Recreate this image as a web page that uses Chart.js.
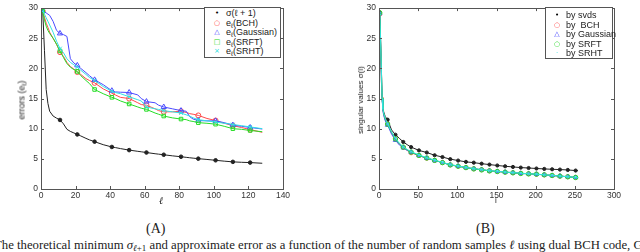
<!DOCTYPE html>
<html>
<head>
<meta charset="utf-8">
<script src="https://cdn.jsdelivr.net/npm/chart.js@4/dist/chart.umd.min.js"></script>
<style>
  body { margin:0; width:640px; height:252px; overflow:hidden; background:#fff; position:relative;
         font-family:"Liberation Sans", Arial, sans-serif; color:#222; }
  canvas { position:absolute; top:0; }
  .txt { position:absolute; white-space:nowrap; line-height:1; }
  .ytitle { font-size:9px; transform:translate(-50%,-50%) rotate(-90deg); }
  .legend { position:absolute; background:#fff; border:1px solid #555; box-sizing:border-box; font-size:9px; }
  .legend .row { position:absolute; left:0; white-space:nowrap; line-height:10px; height:10px; }
  .legend .mk { position:absolute; width:10px; text-align:center; font-family:"DejaVu Sans"; font-size:7px; }
  .legend .lb { position:absolute; }
  .serif { font-family:"Liberation Serif", "Times New Roman", serif; }
  sub { font-size:70%; vertical-align:-2px; line-height:0; }
</style>
</head>
<body>
<canvas id="chartA" width="320" height="215" style="left:0"></canvas>
<canvas id="chartB" width="320" height="215" style="left:320px"></canvas>

<div class="txt ytitle" style="left:22px;top:100px">errors (e<sub>ℓ</sub>)</div>
<div class="txt serif" style="left:159px;top:196px;font-size:10px;font-style:italic">ℓ</div>
<div class="txt ytitle" style="left:361px;top:100px;font-size:8px">singular values σ(i)</div>
<div class="txt" style="left:495px;top:197px;font-size:8px">i</div>

<div class="legend" style="left:204px;top:7px;width:77px;height:51px">
  <div class="row" style="top:0px"><span class="mk" style="left:7px;color:#000">•</span><span class="lb" style="left:21px">σ(ℓ + 1)</span></div>
  <div class="row" style="top:9.5px"><span class="mk" style="left:7px;color:#ff4040">○</span><span class="lb" style="left:21px">e<sub>ℓ</sub>(BCH)</span></div>
  <div class="row" style="top:19px"><span class="mk" style="left:7px;color:#4040ff">△</span><span class="lb" style="left:21px">e<sub>ℓ</sub>(Gaussian)</span></div>
  <div class="row" style="top:28.5px"><span class="mk" style="left:7px;color:#20d820">□</span><span class="lb" style="left:21px">e<sub>ℓ</sub>(SRFT)</span></div>
  <div class="row" style="top:38px"><span class="mk" style="left:7px;color:#20dcdc">×</span><span class="lb" style="left:21px">e<sub>ℓ</sub>(SRHT)</span></div>
</div>

<div class="legend" style="left:545px;top:7px;width:68px;height:52px">
  <div class="row" style="top:2px"><span class="mk" style="left:6px;color:#000">•</span><span class="lb" style="left:20px">by svds</span></div>
  <div class="row" style="top:11.5px"><span class="mk" style="left:6px;color:#ff4040">○</span><span class="lb" style="left:20px">by &nbsp;BCH</span></div>
  <div class="row" style="top:21px"><span class="mk" style="left:6px;color:#4040ff">△</span><span class="lb" style="left:20px">by Gaussian</span></div>
  <div class="row" style="top:30.5px"><span class="mk" style="left:6px;color:#20d820">○</span><span class="lb" style="left:20px">by SRFT</span></div>
  <div class="row" style="top:40px"><span class="mk" style="left:6px;color:#20dcdc">·</span><span class="lb" style="left:20px">by SRHT</span></div>
</div>

<div class="txt serif" style="left:146px;top:222px;font-size:14px">(A)</div>
<div class="txt serif" style="left:476px;top:222px;font-size:14px">(B)</div>
<div class="txt serif" style="left:-6px;top:239px;font-size:12.75px">The theoretical minimum <i>σ</i><sub><i>ℓ</i>+1</sub> and approximate error as a function of the number of random samples <i>ℓ</i> using dual BCH code, Gaussian</div>

<script>
// (A) number of random samples and errors
const ellA = [1, 2, 3, 4, 5, 7, 9, 11, 13, 15, 17, 19, 21, 23, 26, 28, 31, 36, 41, 43, 46,
  51, 56, 58, 61, 66, 68, 71, 76, 81, 84, 86, 88, 91, 96, 101, 106, 111, 116, 121, 128];
const sigmaA = [29.5, 23, 16.5, 14.2, 12.9, 12.1, 11.75, 11.45, 10.8, 9.9, 9.55, 9.3, 9.05, 8.8, 8.4, 8.15, 7.85, 7.35, 6.97, 6.87, 6.7,
  6.45, 6.25, 6.17, 6.05, 5.85, 5.78, 5.68, 5.5, 5.35, 5.25, 5.18, 5.12, 5.03, 4.9, 4.76, 4.62, 4.5, 4.43, 4.38, 4.27];
const bchA = [29.5, 28.5, 27.5, 26.8, 26.0, 25.0, 24.0, 22.7, 22.0, 21.0, 20.3, 19.9, 19.4, 19.0, 18.3, 18.0, 17.6, 16.6, 15.9, 15.6, 15.2,
  15.0, 14.3, 14.0, 13.9, 13.3, 13.0, 12.8, 12.8, 12.9, 12.7, 12.5, 12.4, 12.2, 11.7, 11.35, 10.9, 10.5, 10.2, 9.85, 9.4];
const gaussA = [29.5, 29.4, 29.2, 29.0, 28.8, 27.8, 26.3, 25.8, 25.6, 25.3, 21.6, 20.9, 20.5, 20.0, 19.3, 18.8, 18.1, 17.3, 16.3, 16.1, 16.05,
  16.0, 15.6, 15.0, 14.5, 14.3, 13.9, 13.6, 13.3, 13.0, 12.9, 12.0, 11.6, 11.35, 11.3, 11.3, 11.0, 10.6, 10.4, 10.2, 9.95];
const srftA = [29.5, 28.0, 27.0, 26.3, 25.8, 25.0, 24.0, 22.9, 21.8, 20.8, 20.2, 19.8, 19.5, 18.8, 18.0, 17.5, 16.5, 15.8, 15.2, 15.0, 14.6,
  14.1, 13.6, 13.4, 13.2, 12.6, 12.4, 12.1, 11.8, 11.6, 11.5, 11.3, 11.2, 11.0, 10.9, 10.75, 10.4, 10.0, 9.9, 9.7, 9.5];
const srhtA = [29.5, 29.0, 28.4, 27.8, 27.2, 26.0, 24.5, 23.3, 22.6, 21.6, 21.0, 20.6, 20.2, 19.7, 19.0, 18.5, 18.0, 17.0, 16.2, 16.0, 15.8,
  15.3, 14.8, 14.6, 13.6, 13.3, 13.2, 13.0, 12.8, 12.6, 12.3, 12.1, 11.8, 11.5, 11.3, 11.1, 10.9, 10.7, 10.5, 10.3, 10.0];

// (B) index and singular values
const idxB = [1, 2, 3, 4, 5, 6, 8, 11, 16, 21, 26, 31, 36, 41, 51, 61, 71, 81, 91, 101, 111, 121,
  131, 141, 151, 161, 171, 181, 191, 201, 211, 221, 231, 241, 251, 254];
const svdsB = [29.3, 24, 18, 15, 13.5, 12.8, 12.0, 11.5, 9.8, 9.0, 8.4, 7.8, 7.35, 6.95, 6.4, 6.05, 5.6, 5.3, 4.95, 4.72, 4.5, 4.37,
  4.2, 4.05, 3.9, 3.77, 3.66, 3.55, 3.48, 3.4, 3.33, 3.27, 3.22, 3.16, 3.06, 3.04];
const bchB = [29.0, 24.8, 20.2, 15.2, 13.1, 12.4, 11.5, 10.8, 9.3, 8.3, 7.45, 6.9, 6.4, 6.0, 5.55, 5.1, 4.75, 4.4, 4.0, 3.78, 3.55, 3.35,
  3.2, 3.02, 2.9, 2.8, 2.7, 2.6, 2.52, 2.44, 2.34, 2.24, 2.13, 2.03, 1.93, 1.9];
const gaussB = [29.1, 25.0, 19.8, 14.9, 13.0, 12.2, 11.3, 10.6, 9.1, 8.1, 7.3, 6.85, 6.4, 6.1, 5.55, 5.1, 4.72, 4.38, 4.0, 3.8, 3.55, 3.36,
  3.2, 3.02, 2.92, 2.8, 2.7, 2.6, 2.52, 2.45, 2.35, 2.25, 2.15, 2.04, 1.92, 1.88];
const srftB = [29.2, 25.1, 20.1, 15.1, 13.3, 12.5, 11.6, 10.75, 9.4, 8.3, 7.5, 6.95, 6.5, 6.12, 5.57, 5.14, 4.75, 4.37, 3.99, 3.77, 3.55, 3.33,
  3.17, 3.0, 2.9, 2.79, 2.68, 2.57, 2.51, 2.46, 2.35, 2.24, 2.13, 2.02, 1.91, 1.89];
const srhtB = [29.1, 24.9, 20.0, 15.0, 13.2, 12.6, 11.7, 10.8, 9.5, 8.4, 7.6, 7.0, 6.55, 6.2, 5.65, 5.2, 4.78, 4.42, 4.05, 3.82, 3.58, 3.38,
  3.22, 3.05, 2.93, 2.82, 2.72, 2.62, 2.53, 2.46, 2.36, 2.26, 2.15, 2.04, 1.93, 1.91];

const pairs = (xs, ys) => xs.map((x, i) => ({x: x, y: ys[i]}));

// markers only every 10th sample, like the matlab plot
const markEvery10 = (r) => (ctx) => (ctx.raw && (ctx.raw.x - 1) % 10 === 0) ? r : 0;

const makeSet = (data, color, style, r, filled, order) => ({
    data: data,
    borderColor: color,
    borderWidth: 1,
    pointStyle: style,
    pointRadius: markEvery10(r),
    pointBorderColor: color,
    pointBackgroundColor: filled ? color : 'rgba(0,0,0,0)',
    pointBorderWidth: 1,
    tension: 0,
    order: order
});

// matlab style box with inward ticks
const boxTicks = {
    id: 'boxTicks',
    afterDraw(chart) {
        const {ctx, chartArea: a, scales} = chart;
        ctx.save();
        ctx.strokeStyle = '#555';
        ctx.lineWidth = 1;
        ctx.strokeRect(Math.round(a.left) + 0.5, Math.round(a.top) + 0.5,
            Math.round(a.right - a.left), Math.round(a.bottom - a.top));
        ctx.beginPath();
        scales.x.ticks.forEach(t => {
            const px = Math.round(scales.x.getPixelForValue(t.value)) + 0.5;
            ctx.moveTo(px, a.bottom); ctx.lineTo(px, a.bottom - 3);
            ctx.moveTo(px, a.top); ctx.lineTo(px, a.top + 3);
        });
        scales.y.ticks.forEach(t => {
            const py = Math.round(scales.y.getPixelForValue(t.value)) + 0.5;
            ctx.moveTo(a.left, py); ctx.lineTo(a.left + 3, py);
            ctx.moveTo(a.right, py); ctx.lineTo(a.right - 3, py);
        });
        ctx.stroke();
        ctx.restore();
    }
};

const axisOpts = (min, max, step, fixedSize, padding) => ({
    type: 'linear',
    min: min,
    max: max,
    grid: {display: false, drawTicks: false},
    border: {display: false},
    ticks: {stepSize: step, autoSkip: false, maxRotation: 0, padding: padding,
            color: '#333', font: {family: 'Liberation Sans', size: 8.5}},
    afterFit: (scale) => {
        if (scale.isHorizontal()) scale.height = fixedSize; else scale.width = fixedSize;
    }
});

const baseOptions = (xMax, xStep, yWidth, padTop, padRight) => ({
    responsive: false,
    animation: false,
    layout: {padding: {top: padTop, right: padRight, left: 0, bottom: 0}},
    plugins: {legend: {display: false}, tooltip: {enabled: false}},
    scales: {
        x: axisOpts(0, xMax, xStep, 26, 2),
        y: axisOpts(0, 30, 5, yWidth, 3)
    }
});

const chartA = new Chart(document.getElementById('chartA'), {
    type: 'line',
    data: {
        datasets: [
            makeSet(pairs(ellA, sigmaA), '#222', 'circle', 1.8, true, 5),
            makeSet(pairs(ellA, bchA), '#ff4a4a', 'circle', 2.5, false, 4),
            makeSet(pairs(ellA, gaussA), '#4a4aff', 'triangle', 3, false, 3),
            makeSet(pairs(ellA, srftA), '#25dd25', 'rect', 2.5, false, 2),
            makeSet(pairs(ellA, srhtA), '#30e2e2', 'crossRot', 2.5, false, 1)
        ]
    },
    options: baseOptions(140, 20, 41, 4, 37),
    plugins: [boxTicks]
});

const chartB = new Chart(document.getElementById('chartB'), {
    type: 'line',
    data: {
        datasets: [
            makeSet(pairs(idxB, svdsB), '#222', 'circle', 1.6, true, 5),
            makeSet(pairs(idxB, bchB), '#ff4a4a', 'circle', 2, false, 4),
            makeSet(pairs(idxB, gaussB), '#4a4aff', 'triangle', 2.5, false, 3),
            makeSet(pairs(idxB, srftB), '#25dd25', 'circle', 2.2, false, 2),
            makeSet(pairs(idxB, srhtB), '#30e2e2', 'crossRot', 1.8, false, 1)
        ]
    },
    options: baseOptions(300, 50, 59, 6, 26),
    plugins: [boxTicks]
});
</script>
</body>
</html>
